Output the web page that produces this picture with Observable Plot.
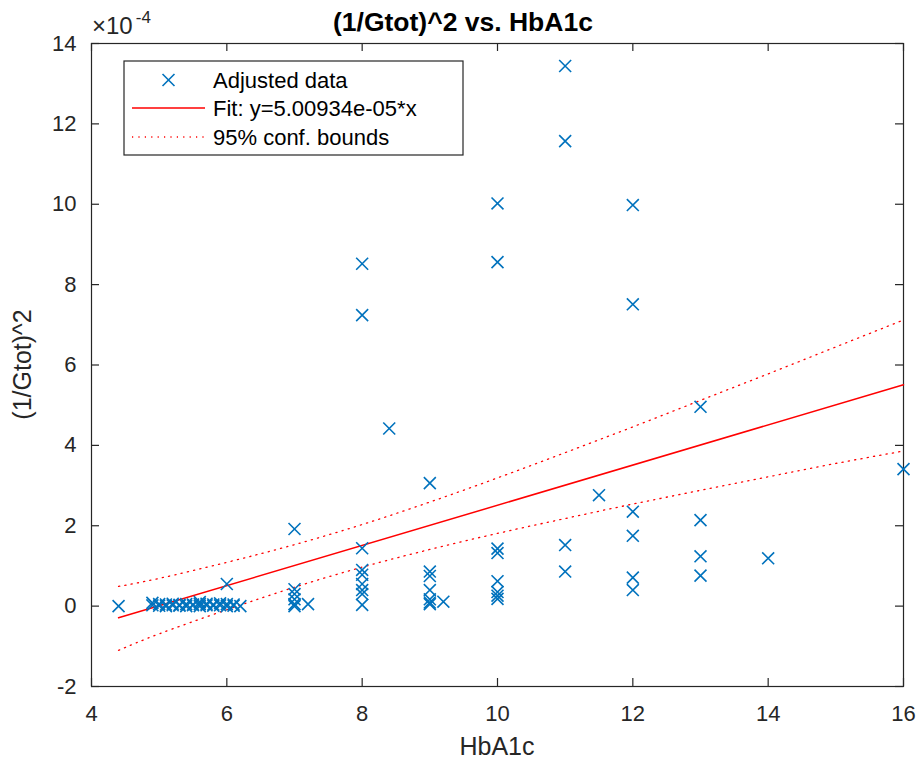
<!DOCTYPE html>
<html>
<head>
<meta charset="utf-8">
<script src="https://cdn.jsdelivr.net/npm/d3@7"></script>
<script src="https://cdn.jsdelivr.net/npm/@observablehq/plot@0.6"></script>
<style>
  html, body { margin: 0; padding: 0; background: white; }
</style>
</head>
<body>
<div id="chart"></div>
<script>
// ---- Data (y values in units of 1e-4) ----
const hba1c = [
  4.4,
  4.9, 4.9, 5.0, 5.0, 5.1, 5.1, 5.2, 5.2, 5.3, 5.3, 5.4, 5.4, 5.5, 5.5, 5.6, 5.6, 5.6,
  5.7, 5.7, 5.8, 5.8, 5.9, 5.9, 6.0, 6.0, 6.1, 6.1, 6.2,
  6.0,
  7, 7, 7, 7, 7, 7,
  7.2,
  8, 8, 8, 8, 8, 8, 8, 8, 8,
  8.4,
  9, 9, 9, 9, 9, 9, 9,
  9.2,
  10, 10, 10, 10, 10, 10, 10, 10,
  11, 11, 11, 11,
  11.5,
  12, 12, 12, 12, 12, 12,
  13, 13, 13, 13,
  14,
  16
];
const gtotSq = [
  0.0,
  0.08, 0.02, 0.05, 0.01, 0.04, 0.00, 0.06, 0.02, 0.03, 0.01, 0.05, 0.00, 0.04, 0.02, 0.10, 0.05, 0.00,
  0.06, 0.02, 0.04, 0.01, 0.07, 0.02, 0.05, 0.00, 0.04, 0.01, 0.00,
  0.55,
  1.92, 0.42, 0.30, 0.17, 0.05, 0.00,
  0.05,
  8.52, 7.24, 1.44, 0.90, 0.78, 0.55, 0.40, 0.30, 0.03,
  4.42,
  3.06, 0.86, 0.75, 0.40, 0.17, 0.09, 0.05,
  0.11,
  10.02, 8.56, 1.43, 1.32, 0.62, 0.35, 0.26, 0.18,
  13.44, 11.57, 1.52, 0.86,
  2.76,
  9.98, 7.51, 2.35, 1.75, 0.71, 0.40,
  4.96, 2.14, 1.24, 0.76,
  1.19,
  3.41
];
const fitX = [4.4, 16];
const fitY = [-0.29, 5.51];
const boundX = [4.4, 5, 6, 7, 8, 9, 10, 11, 12, 13, 14, 15, 16];
const upperY = [0.49, 0.69, 1.09, 1.53, 2.03, 2.59, 3.19, 3.82, 4.46, 5.12, 5.78, 6.45, 7.12];
const lowerY = [-1.10, -0.69, -0.09, 0.47, 0.97, 1.41, 1.81, 2.18, 2.54, 2.88, 3.22, 3.55, 3.86];
const xTicks = [4, 6, 8, 10, 12, 14, 16];
const yTicks = [-2, 0, 2, 4, 6, 8, 10, 12, 14];

const titleText = "(1/Gtot)^2 vs. HbA1c";
const xLabel = "HbA1c";
const yLabel = "(1/Gtot)^2";
const legendLabels = ["Adjusted data", "Fit: y=5.00934e-05*x", "95% conf. bounds"];

// ---- Build tables ----
const points = hba1c.map((x, i) => ({x, y: gtotSq[i]}));
const fit = fitX.map((x, i) => ({x, y: fitY[i]}));
const upper = boundX.map((x, i) => ({x, y: upperY[i]}));
const lower = boundX.map((x, i) => ({x, y: lowerY[i]}));

const W = 921, H = 763;
const mL = 91, mR = 18, mT = 43, mB = 77;
const plotW = W - mL - mR, plotH = H - mT - mB;
const ink = "#262626";
const blue = "#0072BD";
const font = "'Liberation Sans', Arial, Helvetica, sans-serif";
const tickLen = 8;
const dotted = "1.2,5.2";

const chart = Plot.plot({
  width: W, height: H,
  marginLeft: mL, marginRight: mR, marginTop: mT, marginBottom: mB,
  x: {domain: [4, 16]},
  y: {domain: [-2, 14]},
  style: {fontFamily: font, fontSize: "22px", color: ink, background: "white"},
  marks: [
    Plot.frame({stroke: ink, strokeWidth: 1.2}),
    Plot.axisX(xTicks, {tickSize: 0, tickPadding: 19, label: null, tickFormat: d => String(d), fill: ink}),
    Plot.axisY(yTicks, {tickSize: 0, tickPadding: 15, label: null, tickFormat: d => String(d), fill: ink}),
    Plot.tickX(xTicks, {x: d => d, insetTop: plotH - tickLen, stroke: ink, strokeWidth: 1.2}),
    Plot.tickX(xTicks, {x: d => d, insetBottom: plotH - tickLen, stroke: ink, strokeWidth: 1.2}),
    Plot.tickY(yTicks, {y: d => d, insetRight: plotW - tickLen, stroke: ink, strokeWidth: 1.2}),
    Plot.tickY(yTicks, {y: d => d, insetLeft: plotW - tickLen, stroke: ink, strokeWidth: 1.2}),
    Plot.line(upper, {x: "x", y: "y", curve: "natural", stroke: "#FF0000", strokeWidth: 1.3, strokeDasharray: dotted}),
    Plot.line(lower, {x: "x", y: "y", curve: "natural", stroke: "#FF0000", strokeWidth: 1.3, strokeDasharray: dotted}),
    Plot.line(fit, {x: "x", y: "y", stroke: "#FF0000", strokeWidth: 1.5}),
    Plot.dot(points, {x: "x", y: "y", symbol: "times", r: 5.5, stroke: blue, strokeWidth: 1.6})
  ]
});

document.getElementById("chart").appendChild(chart);

// ---- Title, axis labels, exponent, legend ----
const svg = d3.select(chart);
const cx = mL + plotW / 2;
const cy = mT + plotH / 2;

svg.append("text")
  .attr("x", 333).attr("y", 31)
  .attr("text-anchor", "start")
  .attr("font-family", font).attr("font-size", 26.5).attr("font-weight", "bold")
  .attr("fill", "#000").text(titleText);

svg.append("text")
  .attr("x", cx).attr("y", 755)
  .attr("text-anchor", "middle")
  .attr("font-family", font).attr("font-size", 25)
  .attr("fill", ink).text(xLabel);

svg.append("text")
  .attr("transform", `translate(31,${cy}) rotate(-90)`)
  .attr("text-anchor", "middle")
  .attr("font-family", font).attr("font-size", 25)
  .attr("fill", ink).text(yLabel);

const expo = svg.append("text")
  .attr("x", mL + 1).attr("y", 34)
  .attr("text-anchor", "start")
  .attr("font-family", font).attr("font-size", 24)
  .attr("fill", ink);
expo.append("tspan").text("\u00D710");
expo.append("tspan").attr("dy", -11).attr("dx", 3).attr("font-size", 17).text("-4");

// legend
const lg = svg.append("g").attr("text-anchor", "start");
const lx0 = 124, ly0 = 61, lw = 339, lh = 94;
lg.append("rect")
  .attr("x", lx0).attr("y", ly0).attr("width", lw).attr("height", lh)
  .attr("fill", "white").attr("stroke", ink).attr("stroke-width", 1.2);
const rowY = [80, 108, 137];
const sx0 = 132, sx1 = 205, tx = 213;
lg.append("path")
  .attr("d", d3.symbol(d3.symbolTimes, 5.5 * 5.5 * Math.PI)())
  .attr("transform", `translate(${(sx0 + sx1) / 2},${rowY[0]})`)
  .attr("fill", "none").attr("stroke", blue).attr("stroke-width", 1.6);
lg.append("line")
  .attr("x1", sx0).attr("x2", sx1).attr("y1", rowY[1]).attr("y2", rowY[1])
  .attr("stroke", "#FF0000").attr("stroke-width", 1.5);
lg.append("line")
  .attr("x1", sx0).attr("x2", sx1).attr("y1", rowY[2]).attr("y2", rowY[2])
  .attr("stroke", "#FF0000").attr("stroke-width", 1.3).attr("stroke-dasharray", dotted);
legendLabels.forEach((t, i) => {
  lg.append("text")
    .attr("x", tx).attr("y", rowY[i])
    .attr("dy", "0.35em")
    .attr("text-anchor", "start")
    .attr("font-family", font).attr("font-size", 22)
    .attr("fill", "#000").text(t);
});
</script>
</body>
</html>
